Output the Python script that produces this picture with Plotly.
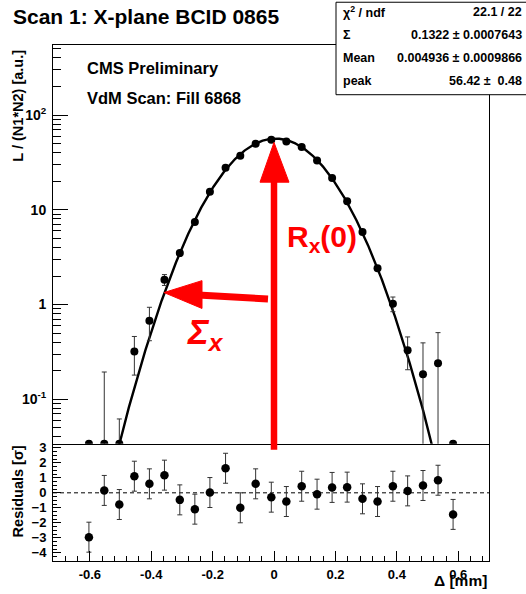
import numpy as np
import plotly.graph_objects as go

# ---------------- data ----------------
delta_mm = [-0.603, -0.553, -0.504, -0.455, -0.406, -0.357, -0.307, -0.258, -0.209, -0.158,
            -0.110, -0.060, -0.009, 0.040, 0.090, 0.140, 0.189, 0.238, 0.288, 0.337,
            0.387, 0.435, 0.485, 0.534, 0.583]
lumi = [-0.146, 0.034, -0.048, 0.32, 0.675, 1.83, 3.49, 7.43, 15.5, 27.7,
        37.2, 49.8, 54.8, 52.6, 45.9, 33.2, 21.7, 12.3, 5.83, 2.41,
        1.02, 0.33, 0.184, 0.24, -0.14]
lumi_err = [0.05, 0.16, 0.11, 0.14, 0.26, 0.24, 0.12, 0.2, 0.3, 0.4,
            0.5, 0.5, 0.5, 0.5, 0.5, 0.45, 0.35, 0.25, 0.15, 0.12,
            0.18, 0.125, 0.21, 0.265, 0.1]
residuals = [-2.96, 0.16, -0.78, 1.11, 0.60, 1.18, -0.47, -1.09, 0.02, 1.64,
             -1.00, 0.60, -0.29, -0.58, 0.44, -0.09, 0.36, 0.38, -0.40, -0.58,
             0.44, 0.13, 0.49, 0.84, -1.44]
resid_err = [1.0, 1.0, 1.0, 1.0, 1.0, 1.0, 1.0, 1.0, 1.0, 1.0,
             1.0, 1.0, 1.0, 1.0, 1.0, 1.0, 1.0, 1.0, 1.0, 1.0,
             1.0, 1.0, 1.0, 1.0, 1.0]
# fit parameters (single Gaussian)
fit_sigma = 0.1322
fit_mean = 0.004936
fit_peak = 56.42
stat_labels = ["\u03c7<sup>2</sup> / ndf", "\u03a3", "Mean", "peak"]
stat_values = ["22.1 / 22", "0.1322 \u00b1 0.0007643", "0.004936 \u00b1 0.0009866", "56.42 \u00b1  0.48"]
x_tick_vals = [-0.6, -0.4, -0.2, 0, 0.2, 0.4, 0.6]
x_tick_text = ["-0.6", "-0.4", "-0.2", "0", "0.2", "0.4", "0.6"]
y_tick_vals = [0.1, 1, 10, 100]
y_tick_text = ["10<sup>-1</sup>", "1", "10", "10<sup>2</sup>"]
r_tick_vals = [-4, -3, -2, -1, 0, 1, 2, 3]

# ---------------- layout geometry (pixels) ----------------
W, H = 526, 594
L, R, T, B = 53, 489, 45, 564
SPLIT = 446
FONT = "Liberation Sans, Arial, Helvetica, sans-serif"
RED = "#ff0000"

def px(x):
    return (x - L) / (R - L)

def py(y):
    return (B - y) / (B - T)

y_lo, y_hi = np.log10(0.034), np.log10(548)
ymin_val = 10 ** (y_lo + 0.0005)

fig = go.Figure()

# fit curve
xf = np.linspace(-0.6, 0.6, 600)
yf = fit_peak * np.exp(-0.5 * ((xf - fit_mean) / fit_sigma) ** 2)
fig.add_trace(go.Scatter(x=xf, y=yf, mode="lines", line=dict(color="black", width=2.4),
                         xaxis="x2", yaxis="y", hoverinfo="skip", showlegend=False))

# data points (ROOT draws values below the log range at the frame bottom)
lumi_arr = np.array(lumi)
err_arr = np.array(lumi_err)
y_disp = np.maximum(lumi_arr, ymin_val)
up = np.maximum(lumi_arr + err_arr, y_disp) - y_disp
lo_end = np.maximum(lumi_arr - err_arr, 1e-6)
down = np.maximum(y_disp - lo_end, 0)
fig.add_trace(go.Scatter(x=delta_mm, y=y_disp, mode="markers",
                         marker=dict(color="black", size=8),
                         error_y=dict(type="data", array=up, arrayminus=down, symmetric=False,
                                      color="#333333", thickness=1, width=2.5),
                         xaxis="x2", yaxis="y", showlegend=False))

# residual zero line
fig.add_trace(go.Scatter(x=[-0.72, 0.70], y=[0, 0], mode="lines",
                         line=dict(color="black", width=1, dash="4px,3px"),
                         xaxis="x", yaxis="y2", hoverinfo="skip", showlegend=False))
# residual points
fig.add_trace(go.Scatter(x=delta_mm, y=residuals, mode="markers",
                         marker=dict(color="black", size=8.5),
                         error_y=dict(type="data", array=resid_err, color="#333333", thickness=1, width=2.5),
                         xaxis="x", yaxis="y2", showlegend=False))

split_paper = py(SPLIT)
tickfont = dict(family=FONT, size=13, color="black", weight="bold")

minor_log = [m * 10.0 ** e for e in range(-2, 3) for m in range(2, 10)]

fig.update_layout(
    width=W, height=H,
    margin=dict(l=L, r=W - R, t=T, b=H - B),
    paper_bgcolor="white", plot_bgcolor="white",
    showlegend=False,
    xaxis=dict(domain=[0, 1], anchor="y2", range=[-0.72, 0.70],
               tickvals=x_tick_vals, ticktext=x_tick_text, ticks="inside", ticklen=10,
               tickcolor="black", tickwidth=1,
               minor=dict(ticks="inside", ticklen=5, dtick=0.04, tick0=0, tickcolor="black"),
               showline=True, linecolor="black", linewidth=1, mirror=False,
               showgrid=False, zeroline=False, tickfont=tickfont, ticklabelstandoff=1),
    xaxis2=dict(domain=[0, 1], anchor="y", matches="x", range=[-0.72, 0.70],
                showticklabels=False, ticks="", showline=True, linecolor="black",
                linewidth=1, mirror=True, showgrid=False, zeroline=False),
    yaxis=dict(domain=[split_paper, 1], anchor="x2", type="log", range=[y_lo, y_hi],
               tickvals=y_tick_vals, ticktext=y_tick_text, ticks="inside", ticklen=15,
               tickcolor="black",
               minor=dict(ticks="inside", ticklen=8, tickvals=minor_log, tickcolor="black"),
               showline=True, linecolor="black", linewidth=1, mirror=True,
               showgrid=False, zeroline=False, tickfont=dict(family=FONT, size=14, color="black", weight="bold"),
               ticklabelstandoff=3),
    yaxis2=dict(domain=[0, split_paper], anchor="x", range=[-4.55, 3.28],
                tickvals=r_tick_vals, ticks="inside", ticklen=8, tickcolor="black",
                minor=dict(ticks="inside", ticklen=4, dtick=0.25, tick0=0, tickcolor="black"),
                showline=True, linecolor="black", linewidth=1, mirror=True,
                showgrid=False, zeroline=False, tickfont=tickfont, ticklabelstandoff=3),
)

shapes = []
# red vertical arrow
shapes.append(dict(type="line", xref="paper", yref="paper",
                   x0=px(274), x1=px(274), y0=py(452), y1=py(180),
                   line=dict(color=RED, width=6.5), layer="above"))
shapes.append(dict(type="path", xref="paper", yref="paper",
                   path=f"M {px(274)},{py(143)} L {px(260)},{py(183)} L {px(289)},{py(183)} Z",
                   fillcolor=RED, line=dict(color=RED, width=1), layer="above"))
# red horizontal arrow (Sigma)
shapes.append(dict(type="line", xref="paper", yref="paper",
                   x0=px(268), x1=px(198), y0=py(300.5), y1=py(296.5),
                   line=dict(color=RED, width=7), layer="above"))
shapes.append(dict(type="path", xref="paper", yref="paper",
                   path=f"M {px(164)},{py(294)} L {px(202)},{py(282)} L {px(202)},{py(310)} Z",
                   fillcolor=RED, line=dict(color=RED, width=1), layer="above"))
# stats box
shapes.append(dict(type="rect", xref="paper", yref="paper",
                   x0=px(336), x1=px(532), y0=py(2), y1=py(95),
                   fillcolor="white", line=dict(color="black", width=1), layer="above"))
fig.update_layout(shapes=shapes)

ann = []
def text(x, y, s, size, xanchor="left", yanchor="middle", color="black", weight="bold",
         style="normal", angle=0):
    ann.append(dict(xref="paper", yref="paper", x=px(x), y=py(y), text=s, showarrow=False,
                    xanchor=xanchor, yanchor=yanchor, textangle=angle,
                    font=dict(family=FONT, size=size, color=color, weight=weight, style=style)))

text(11, 16, "Scan 1: X-plane BCID 0865", 21)
text(85, 68, "CMS Preliminary", 16.5)
text(85, 98, "VdM Scan: Fill 6868", 16.5)
text(18, 106, "L / (N1*N2) [a.u.]", 14.5, xanchor="center", angle=-90)
text(18, 494, "Residuals [\u03c3]", 14.5, xanchor="center", angle=-90)
text(489, 584, "\u0394 [mm]", 15.5, xanchor="right")
text(285, 240, "R<sub>x</sub>(0)", 30, color=RED)
text(185, 336, "\u03a3<sub>x</sub>", 35, color=RED, style="italic")

row_y = [12, 35, 58, 81]
for lab, val, yy in zip(stat_labels, stat_values, row_y):
    text(341, yy, lab, 12.5)
    text(524, yy, val, 12.5, xanchor="right")

fig.update_layout(annotations=ann)

fig.write_html("out.html")
